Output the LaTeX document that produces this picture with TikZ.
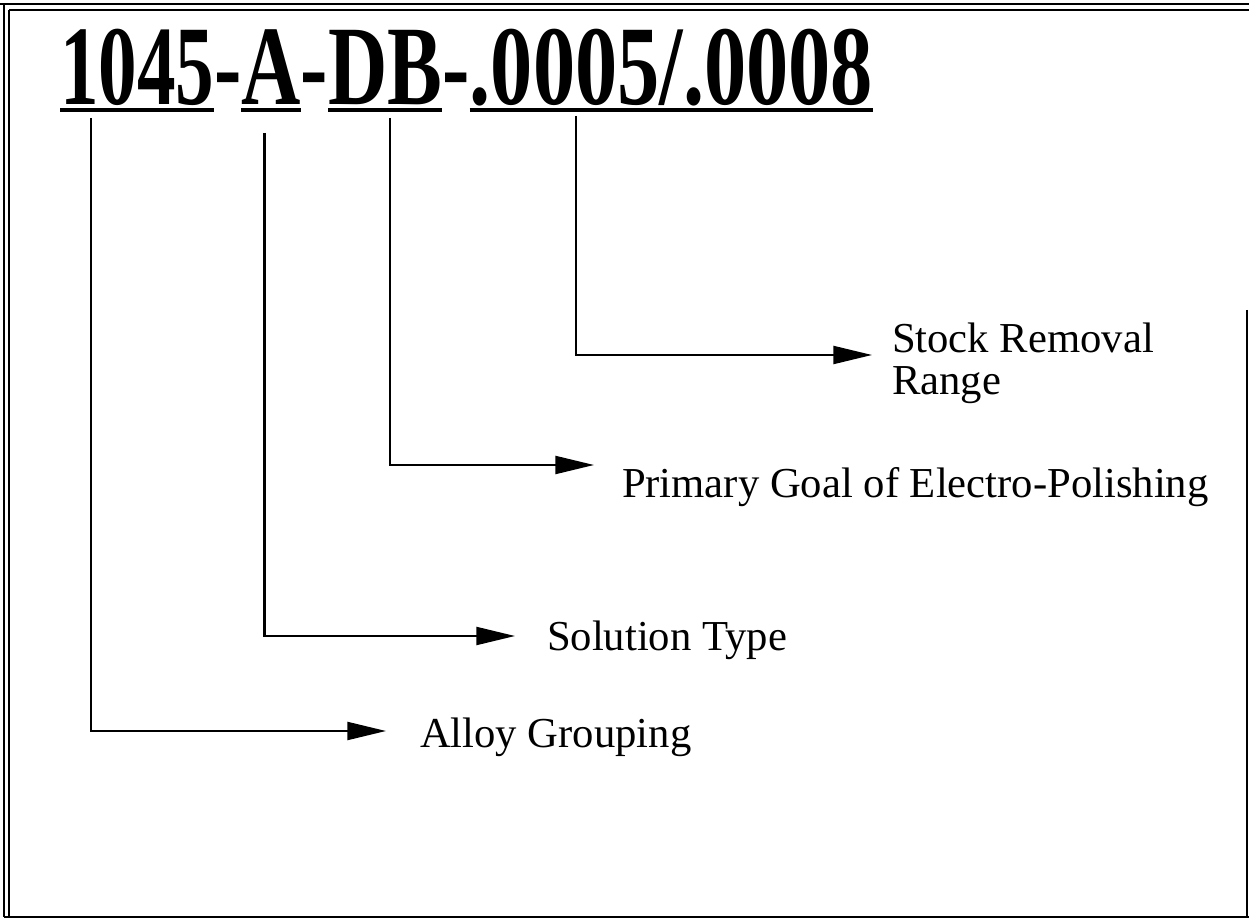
\documentclass[tikz,border=0pt]{standalone}
\usepackage{graphicx}
\usepackage{fontspec}
\setmainfont{Liberation Serif}
\usetikzlibrary{arrows.meta,calc}
\newcommand\tsq[2][0.725]{\scalebox{#1}[1]{#2}}
\begin{document}
\begin{tikzpicture}[x=0.75pt,y=-0.75pt,
  part/.style={inner sep=0pt, outer sep=0pt, anchor=base west, font=\fontsize{85}{85}\selectfont\bfseries},
  lbl/.style={inner sep=0pt, outer sep=0pt, anchor=base west, font=\fontsize{32}{32}\selectfont},
  conn/.style={line width=1.6pt, -{Triangle[length=29pt,width=13.5pt]}},
  uline/.style={line width=2.4pt},
  frame/.style={line width=1.8pt}]
\useasboundingbox (0,0) rectangle (1249,919);
% frame
\draw[frame] (0,4) -- (1249,4);
\draw[frame] (9,10) -- (1249,10);
\draw[frame] (4,4) -- (4,917);
\draw[frame] (9,10) -- (9,917);
\draw[frame] (4,917) -- (1249,917);
\draw[line width=1.2pt] (1247,310) -- (1247,917);
% title parts
\node[part] (p1) at (60,105) {\tsq[0.68]{1045}};
\node[part] (h1) at (p1.base east) {\tsq{-}};
\node[part] (p2) at (h1.base east) {\tsq{A}};
\node[part] (h2) at (p2.base east) {\tsq{-}};
\node[part] (p3) at (h2.base east) {\tsq{DB}};
\node[part] (h3) at (p3.base east) {\tsq{-}};
\node[part] (p4) at (h3.base east) {\tsq[0.745]{.0005/.0008}};
\foreach \p in {p1,p2,p3,p4}
  \draw[uline] ($(\p.base west)+(0,5)$) -- ($(\p.base east)+(0,5)$);
% labels
\node[lbl] (t1) at (420,747) {Alloy Grouping};
\node[lbl] (t2) at (547,650) {Solution Type};
\node[lbl] (t3) at (622,498) {Primary Goal of Electro-Polishing};
\node[lbl] (t4) at (892,353) {Stock Removal};
\node[lbl] (t5) at (892,395) {Range};
% connectors
\draw[conn] ($(p1.base west)+(31,13)$) |- ($(t1.base west)+(-34,-16)$);
\draw[conn] ($(p2.base west)+(23,28)$) |- ($(t2.base west)+(-32,-14)$);
\draw[conn] ($(p3.base west)+(62,13)$) |- ($(t3.base west)+(-28,-33)$);
\draw[conn] ($(p4.base west)+(106,11)$) |- ($(t4.base west)+(-20,2)$);
\end{tikzpicture}
\end{document}
